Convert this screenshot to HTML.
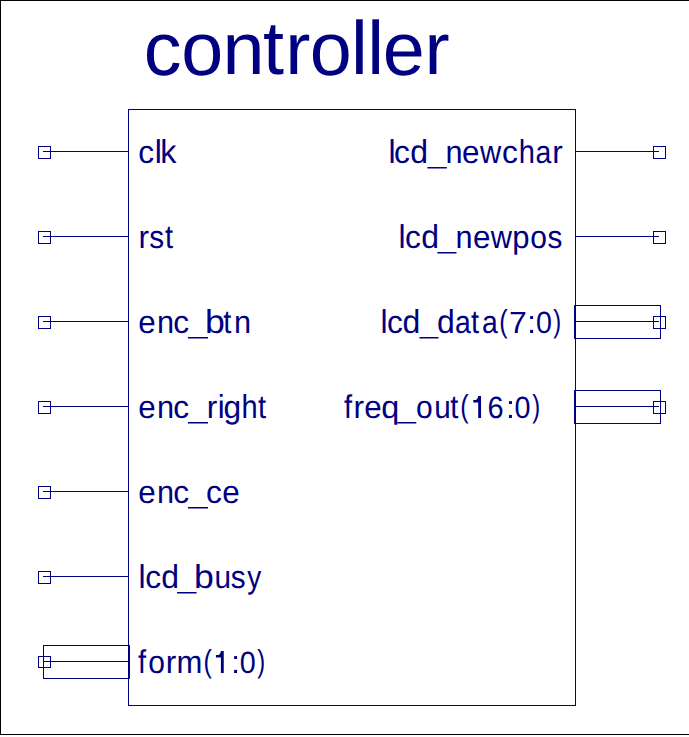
<!DOCTYPE html>
<html><head><meta charset="utf-8"><title>controller</title><style>
html,body{margin:0;padding:0;background:#fff;width:689px;height:737px;overflow:hidden}
svg{position:absolute;left:0;top:0;display:block}
text{font-family:"Liberation Sans",sans-serif;fill:#000080;text-rendering:geometricPrecision}
</style></head><body>
<svg width="689" height="737" viewBox="0 0 689 737">
<path d="M0.5 0V735M0 0.5H689M0 734.5H689" stroke="#000" stroke-width="1" fill="none" shape-rendering="crispEdges"/>
<g stroke="#000080" stroke-width="1" fill="none" shape-rendering="crispEdges">
<rect x="128.5" y="109.5" width="447" height="596"/><rect x="38.5" y="146.5" width="12" height="12"/><path d="M43 151.5H129"/><rect x="38.5" y="231.5" width="12" height="12"/><path d="M43 236.5H129"/><rect x="38.5" y="316.5" width="12" height="12"/><path d="M43 321.5H129"/><rect x="38.5" y="401.5" width="12" height="12"/><path d="M43 406.5H129"/><rect x="38.5" y="486.5" width="12" height="12"/><path d="M43 491.5H129"/><rect x="38.5" y="571.5" width="12" height="12"/><path d="M43 576.5H129"/><rect x="38.5" y="656.5" width="12" height="11"/><path d="M43 661.5H129"/><rect x="43.5" y="645.5" width="86" height="33"/><path d="M128.5 645V679"/><rect x="653.5" y="146.5" width="12" height="12"/><path d="M575 151.5H659"/><rect x="653.5" y="231.5" width="12" height="12"/><path d="M575 236.5H659"/><rect x="653.5" y="316.5" width="12" height="12"/><path d="M575 321.5H659"/><rect x="574.5" y="305.5" width="86" height="33"/><path d="M575.5 305V339"/><rect x="653.5" y="401.5" width="12" height="12"/><path d="M575 406.5H659"/><rect x="574.5" y="390.5" width="86" height="33"/><path d="M575.5 390V424"/>
</g>
<g fill="#000080" font-size="33">
<text font-size="75.5" x="143.77" y="75.1">c</text>
<text font-size="75.5" x="181.16" y="75.1">o</text>
<text font-size="75.5" transform="translate(222.4 74) scale(1 0.97)">n</text>
<text font-size="75.5" x="263.07" y="74">t</text>
<text font-size="75.5" transform="translate(285.15 74) scale(1 0.97)">r</text>
<text font-size="75.5" x="309.86" y="75.1">o</text>
<text font-size="75.5" x="351.09" y="74">l</text>
<text font-size="75.5" x="367.14" y="74">l</text>
<text font-size="75.5" x="382.68" y="75.1">e</text>
<text font-size="75.5" transform="translate(424.6 74) scale(1 0.97)">r</text>
<text transform="translate(138.22 163) scale(0.96 0.97)">c</text>
<text transform="translate(154.84 163) scale(0.97 1.0)">l</text>
<text transform="translate(160.15 163) scale(0.98 1.0)">k</text>
<text transform="translate(138.49 248) scale(0.96 0.97)">r</text>
<text transform="translate(149.35 248) scale(0.9 0.97)">s</text>
<text transform="translate(164.9 248) scale(0.88 1.0)">t</text>
<text transform="translate(138.36 333) scale(0.95 0.97)">e</text>
<text transform="translate(156.99 333) scale(0.93 0.97)">n</text>
<text transform="translate(173.27 333) scale(0.96 0.97)">c</text>
<rect x="187.9" y="337" width="20.1" height="1.5"/>
<text transform="translate(205.04 333) scale(1.08 1.0)">b</text>
<text transform="translate(223.15 333) scale(0.88 1.0)">t</text>
<text transform="translate(233.99 333) scale(0.93 0.97)">n</text>
<text transform="translate(138.36 418) scale(0.95 0.97)">e</text>
<text transform="translate(156.99 418) scale(0.93 0.97)">n</text>
<text transform="translate(173.27 418) scale(0.96 0.97)">c</text>
<rect x="187.9" y="422" width="20.1" height="1.5"/>
<text transform="translate(206.79 418) scale(0.96 0.97)">r</text>
<text transform="translate(217.78 418) scale(0.95 1.0)">i</text>
<text transform="translate(223.45 418) scale(0.96 0.97)">g</text>
<text transform="translate(241.46 418) scale(0.88 1.0)">h</text>
<text transform="translate(258.05 418) scale(0.88 1.0)">t</text>
<text transform="translate(138.36 503) scale(0.95 0.97)">e</text>
<text transform="translate(156.99 503) scale(0.93 0.97)">n</text>
<text transform="translate(173.27 503) scale(0.96 0.97)">c</text>
<rect x="187.9" y="507" width="20.1" height="1.5"/>
<text transform="translate(206.12 503) scale(0.96 0.97)">c</text>
<text transform="translate(222.31 503) scale(0.95 0.97)">e</text>
<text transform="translate(138.39 588) scale(0.97 1.0)">l</text>
<text transform="translate(145.22 588) scale(0.96 0.97)">c</text>
<text transform="translate(161.16 588) scale(0.97 1.0)">d</text>
<rect x="177.1" y="592" width="19.5" height="1.5"/>
<text transform="translate(194.04 588) scale(1.08 1.0)">b</text>
<text transform="translate(214.51 588) scale(0.9 0.97)">u</text>
<text transform="translate(230.8 588) scale(0.9 0.97)">s</text>
<text transform="translate(247.13 588) scale(0.85 0.97)">y</text>
<text transform="translate(137.94 673) scale(0.88 1.0)">f</text>
<text transform="translate(148.25 673) scale(0.91 0.97)">o</text>
<text transform="translate(165.84 673) scale(0.96 0.97)">r</text>
<text transform="translate(176.57 673) scale(0.94 0.97)">m</text>
<text transform="translate(203.52 671.7) scale(0.76 0.96)">(</text>
<path d="M221 651H223.75V673H220.9V657.5H215.95V654.9H218.4C219.6 654.5 220.6 653.4 221 651Z"/>
<rect x="234.1" y="656.1" width="3" height="2.9"/><rect x="234.1" y="669.9" width="3" height="3.1"/>
<text transform="translate(239.72 673) scale(0.87 0.93)">0</text>
<text transform="translate(257.21 671.7) scale(0.72 0.96)">)</text>
<text transform="translate(388.54 163) scale(0.97 1.0)">l</text>
<text transform="translate(394.12 163) scale(0.96 0.97)">c</text>
<text transform="translate(410.36 163) scale(0.97 1.0)">d</text>
<rect x="427.4" y="167" width="19.4" height="1.5"/>
<text transform="translate(445.59 163) scale(0.93 0.97)">n</text>
<text transform="translate(462.01 163) scale(0.95 0.97)">e</text>
<text transform="translate(479.93 163) scale(0.89 0.97)">w</text>
<text transform="translate(502.02 163) scale(0.96 0.97)">c</text>
<text transform="translate(518.86 163) scale(0.88 1.0)">h</text>
<text transform="translate(535.51 163) scale(0.86 0.97)">a</text>
<text transform="translate(552.29 163) scale(0.96 0.97)">r</text>
<text transform="translate(398.49 248) scale(0.97 1.0)">l</text>
<text transform="translate(404.9 248) scale(0.96 0.97)">c</text>
<text transform="translate(421.21 248) scale(0.97 1.0)">d</text>
<rect x="437.4" y="252" width="19.1" height="1.5"/>
<text transform="translate(455.59 248) scale(0.93 0.97)">n</text>
<text transform="translate(472.91 248) scale(0.95 0.97)">e</text>
<text transform="translate(490.73 248) scale(0.89 0.97)">w</text>
<text transform="translate(512.33 248) scale(0.94 0.97)">p</text>
<text transform="translate(530.15 248) scale(0.91 0.97)">o</text>
<text transform="translate(547.55 248) scale(0.9 0.97)">s</text>
<text transform="translate(380.49 333) scale(0.97 1.0)">l</text>
<text transform="translate(386.9 333) scale(0.96 0.97)">c</text>
<text transform="translate(402.56 333) scale(0.97 1.0)">d</text>
<rect x="419.4" y="337" width="19.1" height="1.5"/>
<text transform="translate(436.96 333) scale(0.97 1.0)">d</text>
<text transform="translate(454.91 333) scale(0.86 0.97)">a</text>
<text transform="translate(470.95 333) scale(0.88 1.0)">t</text>
<text transform="translate(481.91 333) scale(0.86 0.97)">a</text>
<text transform="translate(499.32 331.7) scale(0.76 0.96)">(</text>
<text transform="translate(508.93 333) scale(0.97 0.93)">7</text>
<rect x="530.1" y="316.1" width="3" height="2.9"/><rect x="530.1" y="329.9" width="3" height="3.1"/>
<text transform="translate(536.02 333) scale(0.87 0.93)">0</text>
<text transform="translate(553.21 331.7) scale(0.72 0.96)">)</text>
<text transform="translate(343.94 418) scale(0.88 1.0)">f</text>
<text transform="translate(353.54 418) scale(0.96 0.97)">r</text>
<text transform="translate(364.21 418) scale(0.95 0.97)">e</text>
<text transform="translate(381.21 418) scale(0.98 0.97)">q</text>
<rect x="397.2" y="422" width="19.1" height="1.5"/>
<text transform="translate(416.05 418) scale(0.91 0.97)">o</text>
<text transform="translate(434.21 418) scale(0.9 0.97)">u</text>
<text transform="translate(450.25 418) scale(0.88 1.0)">t</text>
<text transform="translate(460.37 416.7) scale(0.76 0.96)">(</text>
<path d="M478.3 396H481.05V418H478.2V402.5H473.25V399.9H475.7C476.9 399.5 477.9 398.4 478.3 396Z"/>
<text transform="translate(487.58 418) scale(0.88 0.93)">6</text>
<rect x="508.95" y="401.1" width="3" height="2.9"/><rect x="508.95" y="414.9" width="3" height="3.1"/>
<text transform="translate(514.47 418) scale(0.87 0.93)">0</text>
<text transform="translate(532.21 416.7) scale(0.72 0.96)">)</text>
</g>
</svg>
</body></html>
